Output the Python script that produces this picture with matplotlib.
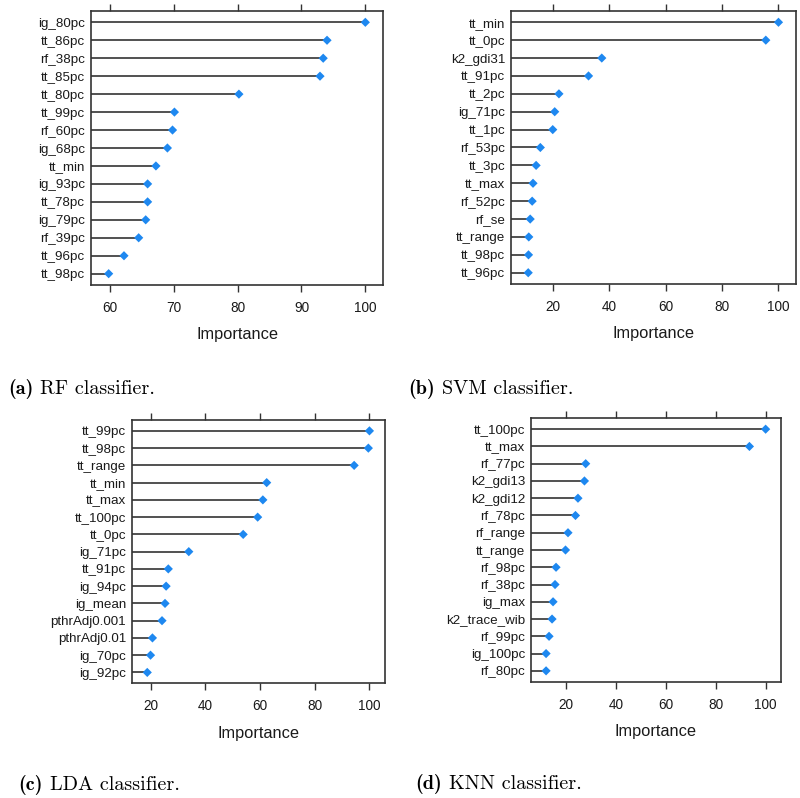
import matplotlib
matplotlib.use("Agg")
import matplotlib.pyplot as plt

rf_labels = ["ig_80pc", "tt_86pc", "rf_38pc", "tt_85pc", "tt_80pc", "tt_99pc", "rf_60pc",
             "ig_68pc", "tt_min", "ig_93pc", "tt_78pc", "ig_79pc", "rf_39pc", "tt_96pc", "tt_98pc"]
rf_values = [100, 94.0, 93.4, 92.9, 80.2, 70.1, 69.8, 69.0, 67.2, 65.9, 65.9, 65.6, 64.5, 62.2, 59.8]

svm_labels = ["tt_min", "tt_0pc", "k2_gdi31", "tt_91pc", "tt_2pc", "ig_71pc", "tt_1pc",
              "rf_53pc", "tt_3pc", "tt_max", "rf_52pc", "rf_se", "tt_range", "tt_98pc", "tt_96pc"]
svm_values = [100, 95.5, 37.3, 32.6, 22.1, 20.6, 19.9, 15.5, 14.0, 12.9, 12.6, 11.9, 11.4, 11.3, 11.2]

lda_labels = ["tt_99pc", "tt_98pc", "tt_range", "tt_min", "tt_max", "tt_100pc", "tt_0pc",
              "ig_71pc", "tt_91pc", "ig_94pc", "ig_mean", "pthrAdj0.001", "pthrAdj0.01",
              "ig_70pc", "ig_92pc"]
lda_values = [100, 99.6, 94.4, 62.4, 61.0, 59.1, 53.8, 33.9, 26.4, 25.6, 25.2, 24.1, 20.6, 19.9, 18.7]

knn_labels = ["tt_100pc", "tt_max", "rf_77pc", "k2_gdi13", "k2_gdi12", "rf_78pc", "rf_range",
              "tt_range", "rf_98pc", "rf_38pc", "ig_max", "k2_trace_wib", "rf_99pc",
              "ig_100pc", "rf_80pc"]
knn_values = [100, 93.5, 27.8, 27.3, 24.7, 23.7, 20.7, 19.7, 15.9, 15.5, 14.7, 14.3, 13.1, 11.9, 11.9]

rf_ticks = [60, 70, 80, 90, 100]
other_ticks = [20, 40, 60, 80, 100]

caption_tags = ["(a)", "(b)", "(c)", "(d)"]
caption_texts = ["RF classifier.", "SVM classifier.", "LDA classifier.", "KNN classifier."]

W, H = 800, 798
fig = plt.figure(figsize=(W / 100, H / 100), dpi=100)
fig.patch.set_facecolor("white")
renderer = fig.canvas.get_renderer()

# pixel boxes: x0, x1, y_top, y_bottom
boxes = [(90.7, 383.3, 11, 285), (510.7, 796, 11, 284),
         (131.7, 385, 420, 683.3), (530.7, 781, 418.3, 681.7)]
caption_pos = [(8, 389), (408, 389), (18, 785), (415, 784)]

panels = [(rf_labels, rf_values, rf_ticks), (svm_labels, svm_values, other_ticks),
          (lda_labels, lda_values, other_ticks), (knn_labels, knn_values, other_ticks)]

frame_col = "#333333"
text_col = "#1a1a1a"
for (labels, values, ticks), (x0, x1, yt, yb), tag, ctext, (cx, cy) in zip(
        panels, boxes, caption_tags, caption_texts, caption_pos):
    ax = fig.add_axes([x0 / W, 1 - yb / H, (x1 - x0) / W, (yb - yt) / H])
    n = len(values)
    ys = list(range(n, 0, -1))
    lo, hi = min(values), max(values)
    pad = 0.07 * (hi - lo)
    xmin, xmax = lo - pad, hi + pad
    ax.set_xlim(xmin, xmax)
    ax.set_ylim(0.37, n + 0.63)
    ax.hlines(ys, xmin, values, color="#333333", linewidth=1.2, zorder=2)
    ax.scatter(values, ys, marker="D", s=22, color="#1E88F0", edgecolors="none", zorder=3)
    ax.set_yticks(ys)
    ax.set_yticklabels(labels, fontfamily="Liberation Sans", fontsize=9.6, color=text_col)
    ax.set_xticks(ticks)
    ax.set_xticklabels([str(t) for t in ticks], fontfamily="Liberation Sans", fontsize=9.8,
                       color=text_col)
    ax.tick_params(axis="y", length=0, pad=4)
    ax.tick_params(axis="x", direction="out", length=5, width=1, color=frame_col,
                   top=True, bottom=True, labeltop=False, labelbottom=True, pad=6.5)
    for sp in ax.spines.values():
        sp.set_color(frame_col)
        sp.set_linewidth(1.2)
    ax.set_xlabel("Importance", fontfamily="Liberation Sans", fontsize=11.8, color=text_col,
                  labelpad=9)
    t1 = fig.text(cx / W, 1 - cy / H, tag, fontfamily="cmb10", fontsize=14.5,
                  ha="left", va="center")
    bb = t1.get_window_extent(renderer)
    fig.text((bb.x1 + 7) / W, 1 - cy / H, ctext, fontfamily="cmr10", fontsize=14.5,
             ha="left", va="center")

fig.savefig("out.png", dpi=100, facecolor="white")
